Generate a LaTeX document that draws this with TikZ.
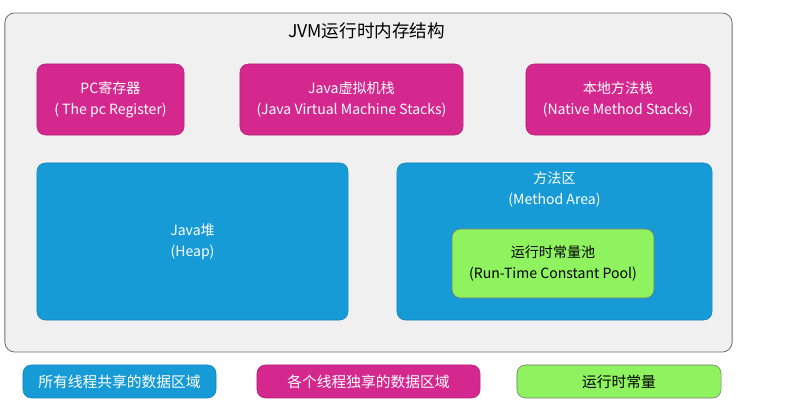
\documentclass[tikz,border=0pt]{standalone}
\usepackage{fontspec}
\newfontfamily\cjk{Noto Sans CJK SC}
\usepackage{tikz}
\usetikzlibrary{positioning}
\definecolor{privcol}{HTML}{D5288F}
\definecolor{sharedcol}{HTML}{179BD7}
\definecolor{constcol}{HTML}{8EF35E}
\definecolor{areacol}{HTML}{F0F0F0}

\begin{document}
\begin{tikzpicture}[x=0.025cm, y=-0.025cm, font=\cjk\fontsize{10}{15}\selectfont,
  area/.style={draw=black!55, fill=areacol, rounded corners=7pt, line width=0.6pt},
  priv/.style={fill=privcol, draw=privcol!85!black, rounded corners=6pt, text=white, align=center},
  shared/.style={fill=sharedcol, draw=sharedcol!85!black, rounded corners=6pt, text=white, align=center},
  const/.style={fill=constcol, draw=black!55, rounded corners=6pt, text=black, align=center},
  legend/.style={minimum height=0.825cm, font=\cjk\fontsize{10.5}{15}\selectfont}]
  \useasboundingbox[fill=white] (0,0) rectangle (811,411);
  \node (jvm) [area, minimum width=18.175cm, minimum height=8.475cm] at (368.5,182.5) {};
  \node (title) at (366.5,31) {\fontsize{12.5}{15}\selectfont JVM运行时内存结构};
  \node (pc) [priv, minimum width=3.675cm, minimum height=1.775cm] at (110.5,99.5) {PC寄存器\\( The pc Register)};
  \node (jvms) [priv, minimum width=5.575cm, minimum height=1.775cm] at (351.5,99.5) {Java虚拟机栈\\(Java Virtual Machine Stacks)};
  \node (native) [priv, minimum width=4.6cm, minimum height=1.775cm] at (618,99.5) {本地方法栈\\(Native Method Stacks)};
  \node (heap) [shared, minimum width=7.775cm, minimum height=3.925cm] at (192.5,241.5) {Java堆\\(Heap)};
  \node (method) [shared, minimum width=7.875cm, minimum height=3.925cm] at (554.5,241.5) {};
  \node (methodtxt) [text=white, align=center] at (554.5,189.5) {方法区\\(Method Area)};
  \node (pool) [const, minimum width=5.05cm, minimum height=1.725cm] at (553,263.5) {运行时常量池\\(Run-Time Constant Pool)};
  % legend
  \node (sharedkey) [shared, legend, minimum width=4.825cm] at (119.5,381.5) {所有线程共享的数据区域};
  \node (privkey) [priv, legend, minimum width=5.575cm] at (368.5,381.5) {各个线程独享的数据区域};
  \node (constkey) [const, legend, minimum width=5.1cm] at (619,381.5) {运行时常量};
\end{tikzpicture}
\end{document}
